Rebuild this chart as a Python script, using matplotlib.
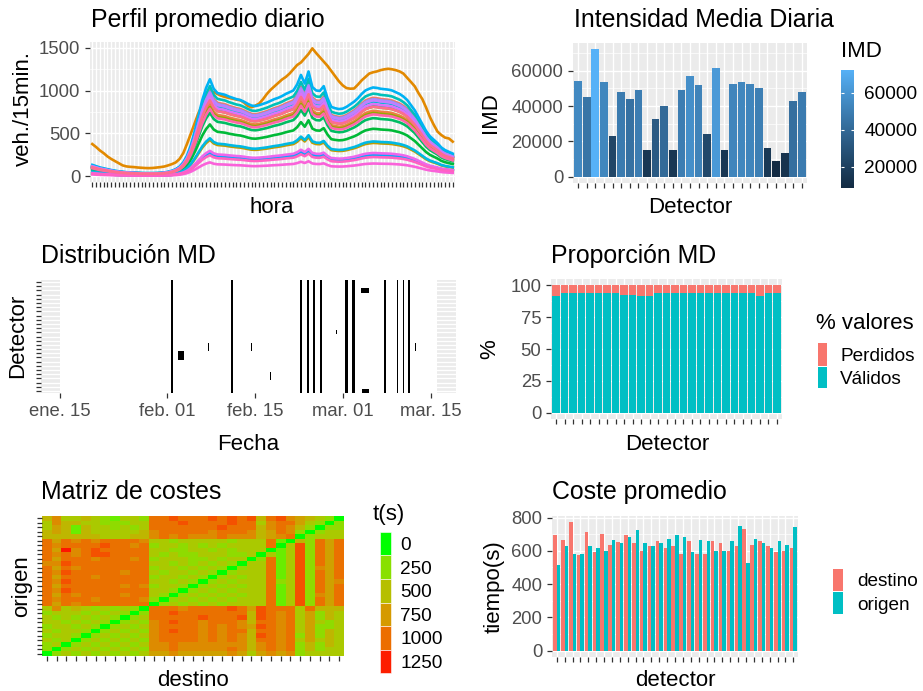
import numpy as np
import matplotlib
matplotlib.use("Agg")
import matplotlib.pyplot as plt
from matplotlib.colors import ListedColormap, Normalize
from matplotlib.patches import Rectangle
from matplotlib.ticker import FixedLocator
import matplotlib.dates as mdates
from datetime import datetime

plt.rcParams['font.family'] = ['Liberation Sans', 'DejaVu Sans']

# ---------------------------------------------------------------- data
# daily mean intensity per detector (veh/day)
imd = [54300, 45300, 72100, 53400, 23000, 48100, 43800, 49100, 14900, 32800,
       40200, 14900, 49100, 57200, 51700, 24000, 61500, 14900, 52600, 53400,
       52600, 50000, 16000, 8700, 13200, 42800, 48100]
imd_breaks = [0, 20000, 40000, 60000]
imd_bar_breaks = [20000, 40000, 60000]

# 15-minute profile of a typical detector (veh./15min.)
perfil_tipo = [130, 115, 100, 90, 80, 70, 62, 55, 50, 45, 42, 40, 38, 36, 35, 35,
               35, 36, 38, 42, 50, 62, 80, 110, 160, 240, 360, 520, 700, 880, 1020, 1120,
               1010, 960, 950, 940, 920, 905, 890, 880, 860, 835, 815, 810, 820, 835, 850, 870,
               890, 905, 925, 950, 970, 990, 1060, 1170, 1070, 1210, 1030, 990, 985, 1040, 900, 800,
               785, 775, 780, 800, 830, 860, 900, 950, 990, 1010, 1025, 1020, 1010, 1005, 1000, 990,
               970, 950, 920, 880, 820, 760, 680, 600, 520, 460, 420, 380, 330, 300, 280, 260]
# 15-minute profile of the busiest detector (number 3)
perfil_det3 = [375, 340, 300, 268, 230, 200, 175, 150, 125, 113, 108, 105, 100, 97, 94, 93,
               95, 100, 105, 112, 125, 140, 160, 200, 270, 380, 500, 620, 740, 830, 880, 970,
               985, 960, 940, 926, 915, 905, 895, 888, 860, 820, 805, 825, 849, 900, 960, 1010,
               1050, 1090, 1130, 1160, 1200, 1250, 1300, 1330, 1380, 1430, 1495, 1440, 1390, 1340, 1290, 1230,
               1170, 1110, 1062, 1030, 1023, 1025, 1070, 1120, 1160, 1200, 1215, 1225, 1240, 1250, 1256, 1250,
               1240, 1225, 1200, 1150, 1101, 1050, 970, 900, 800, 690, 600, 520, 480, 450, 440, 403]
perfil_y_breaks = [0, 500, 1000, 1500]

# share of valid records per detector (%)
validos_pct = [91.4, 93.7, 93.7, 93.7, 93.7, 93.7, 93.7, 93.7, 92.7, 92.7,
               91.4, 91.4, 93.7, 93.7, 93.7, 93.7, 93.7, 93.7, 93.7, 93.7,
               93.7, 93.7, 93.7, 93.7, 91.4, 93.7, 93.7]
pct_breaks = [0, 25, 50, 75, 100]

# missing-data episodes: (start, hours, first detector, last detector)
md_periodo = ("2021-01-15 00:00", "2021-03-16 00:00")
md_eventos = [
    ("2021-01-26 06:00", 3, 6, 6),
    ("2021-02-01 17:00", 6, 1, 27),
    ("2021-02-02 18:00", 25, 9, 10),
    ("2021-02-07 12:30", 4, 11, 12),
    ("2021-02-11 07:00", 6, 1, 27),
    ("2021-02-14 07:40", 4, 11, 12),
    ("2021-02-17 08:30", 4, 4, 5),
    ("2021-02-22 06:00", 6, 1, 27),
    ("2021-02-23 07:30", 6, 1, 27),
    ("2021-02-24 08:00", 6, 1, 27),
    ("2021-02-25 09:00", 6, 1, 27),
    ("2021-02-27 21:30", 3, 15, 15),
    ("2021-03-01 09:00", 12, 1, 27),
    ("2021-03-02 10:50", 10, 1, 27),
    ("2021-03-03 22:20", 30, 25, 25),
    ("2021-03-04 02:30", 26, 1, 1),
    ("2021-03-07 15:00", 6, 1, 27),
    ("2021-03-09 14:00", 6, 1, 27),
    ("2021-03-10 13:00", 6, 1, 27),
    ("2021-03-11 10:30", 6, 1, 27),
    ("2021-03-12 10:40", 4, 11, 12),
]
fecha_ticks = ["2021-01-15", "2021-02-01", "2021-02-15", "2021-03-01", "2021-03-15"]
fecha_labels = ["ene. 15", "feb. 01", "feb. 15", "mar. 01", "mar. 15"]

# origin-destination travel time matrix, one level = COSTE_PASO seconds
# rows from origen 31 (top) down to origen 1; destinos 1-11 | 12-21 | 22-31
COSTE_PASO = 140
coste_filas = [
    "46334321332" "7787778787" "8478654320",
    "36443322233" "7778777787" "7367753202",
    "35414332323" "7777777877" "7467642022",
    "45414333334" "6777776777" "6457620233",
    "44444433344" "6767666766" "6456702333",
    "75767677776" "3323333323" "3371042757",
    "76777787767" "2332323233" "3370382757",
    "75967877777" "3322332323" "3301382757",
    "76767887777" "3232233322" "3031382757",
    "75777677767" "2333223233" "0271382757",
    "66877777777" "3323232320" "3371382757",
    "75767777777" "2332323202" "3371382657",
    "76877777677" "3233232023" "3371382757",
    "75777677777" "2332320232" "3371382757",
    "76877777777" "3323202323" "3372382756",
    "75777777676" "2332023232" "3371382757",
    "76877777777" "3320232323" "3371382757",
    "75767777677" "3202323232" "3371382657",
    "76777677776" "2023232323" "3371382757",
    "75767777777" "0232323233" "3371382757",
    "36343232320" "7776777787" "5877737444",
    "23332323202" "7787777777" "4876735243",
    "32323232023" "7777787778" "4876735243",
    "33232320232" "6787767776" "4776735323",
    "23323202323" "6777767676" "5876735223",
    "32332023232" "6787767677" "4776735243",
    "23320232323" "6777767676" "4876725243",
    "32302323232" "6777767676" "4776735343",
    "23023232323" "6676666666" "4676724243",
    "20232323232" "6676666676" "4676724233",
    "02323232323" "5565555565" "3565623333",
]
coste_leyenda = [0, 250, 500, 750, 1000, 1250]
coste_max = 1280

# mean travel time per detector (s)
coste_destino = [693, 666, 771, 573, 714, 591, 703, 638, 656, 694, 647, 599, 628, 657, 619, 628,
                 581, 657, 581, 580, 657, 648, 599, 628, 731, 637, 657, 629, 591, 599, 619]
coste_origen = [513, 627, 579, 579, 627, 619, 599, 666, 646, 685, 723, 646, 628, 646, 674, 694,
                684, 591, 666, 657, 599, 599, 657, 751, 525, 674, 646, 619, 657, 637, 742]
coste_breaks = [0, 200, 400, 600, 800]

# ---------------------------------------------------------------- colour helpers
WN = np.array([0.95047, 1.0, 1.08883])
M_RGB2XYZ = np.array([[0.4124564, 0.3575761, 0.1804375],
                      [0.2126729, 0.7151522, 0.0721750],
                      [0.0193339, 0.1191920, 0.9503041]])
M_XYZ2RGB = np.linalg.inv(M_RGB2XYZ)


def _lin_to_srgb(lin):
    lin = np.clip(lin, 0, 1)
    return np.where(lin <= 0.0031308, 12.92 * lin, 1.055 * lin ** (1 / 2.4) - 0.055)


def hex_to_lab(h):
    rgb = np.array([int(h[i:i + 2], 16) / 255 for i in (1, 3, 5)])
    lin = np.where(rgb <= 0.04045, rgb / 12.92, ((rgb + 0.055) / 1.055) ** 2.4)
    t = (M_RGB2XYZ @ lin) / WN
    f = np.where(t > (6 / 29) ** 3, np.cbrt(t), t / (3 * (6 / 29) ** 2) + 4 / 29)
    return np.array([116 * f[1] - 16, 500 * (f[0] - f[1]), 200 * (f[1] - f[2])])


def lab_to_rgb(lab):
    L, a, b = lab
    fy = (L + 16) / 116
    fx, fz = fy + a / 500, fy - b / 200
    finv = lambda f: np.where(f > 6 / 29, f ** 3, 3 * (6 / 29) ** 2 * (f - 4 / 29))
    xyz = np.array([finv(fx), finv(fy), finv(fz)]) * WN
    return _lin_to_srgb(M_XYZ2RGB @ xyz)


def lab_cmap(lo, hi, n=256):
    a, b = hex_to_lab(lo), hex_to_lab(hi)
    return ListedColormap([lab_to_rgb(a + (b - a) * t) for t in np.linspace(0, 1, n)])


def hcl(h, c=100, l=65):
    h = np.deg2rad(h)
    u, v = c * np.cos(h), c * np.sin(h)
    un = 4 * WN[0] / (WN[0] + 15 * WN[1] + 3 * WN[2])
    vn = 9 * WN[1] / (WN[0] + 15 * WN[1] + 3 * WN[2])
    Y = ((l + 16) / 116) ** 3
    up, vp = u / (13 * l) + un, v / (13 * l) + vn
    X = Y * 9 * up / (4 * vp)
    Z = Y * (12 - 3 * up - 20 * vp) / (4 * vp)
    return _lin_to_srgb(M_XYZ2RGB @ np.array([X, Y, Z]))


def hue_pal(n):
    return [hcl(15 + 360 * k / n) for k in range(n)]


# ---------------------------------------------------------------- figure
W, H = 923, 691
fig = plt.figure(figsize=(W / 100, H / 100), dpi=100)
fig.patch.set_facecolor('white')

TITLE, AXT, TICK, LEG = 17.9, 16, 13.3, 13.7
BG, TXT, TICKC = '#EBEBEB', '#4D4D4D', '#333333'
RED, TEAL = '#F8766D', '#00BFC4'


def axes_px(l, t, r, b):
    return fig.add_axes([l / W, 1 - b / H, (r - l) / W, (b - t) / H])


def gg(ax):
    ax.set_facecolor(BG)
    for s in ax.spines.values():
        s.set_visible(False)
    ax.set_axisbelow(True)
    ax.tick_params(which='major', length=3.3, width=0.9, color=TICKC,
                   labelsize=TICK, labelcolor=TXT, pad=3.8)
    ax.tick_params(which='minor', length=0)
    ax.grid(which='major', color='white', lw=1.0)
    ax.grid(which='minor', color='white', lw=0.5)


# --- Perfil promedio diario
ax1 = axes_px(90, 42, 455, 182)
gg(ax1)
n_det = len(imd)
pal = hue_pal(n_det)
base = np.array(perfil_tipo, float)
for k in range(n_det):
    serie = np.array(perfil_det3, float) if k == 2 else base * imd[k] / base.sum()
    ax1.plot(np.arange(len(serie)), serie, color=pal[k], lw=1.9, solid_joinstyle='round')
ax1.set_xlim(-0.6, 95.6)
ax1.set_xticks(np.arange(96))
ax1.set_xticklabels([])
ax1.set_yticks(perfil_y_breaks)
ax1.yaxis.set_minor_locator(FixedLocator([250, 750, 1250]))
ax1.set_ymargin(0.05)
ax1.autoscale(axis='y')

# --- Intensidad Media Diaria
ax2 = axes_px(573, 43, 807, 183)
gg(ax2)
imd_cmap = lab_cmap('#132B43', '#56B1F7')
imd_norm = Normalize(min(imd), max(imd))
xdet = np.arange(1, n_det + 1)
ax2.bar(xdet, imd, width=0.9, color=[imd_cmap(imd_norm(v)) for v in imd])
ax2.set_xlim(0.4, n_det + 0.6)
ax2.set_ylim(-0.05 * max(imd), 1.05 * max(imd))
ax2.set_xticks(xdet)
ax2.set_xticklabels([])
ax2.set_yticks(imd_breaks)
ax2.yaxis.set_minor_locator(FixedLocator([10000, 30000, 50000, 70000]))

cax = axes_px(841, 70, 854, 188)
grad = np.linspace(min(imd), max(imd), 256).reshape(-1, 1)
cax.imshow(grad, cmap=imd_cmap, norm=imd_norm, aspect='auto', origin='lower',
           extent=(0, 1, min(imd), max(imd)))
cax.set_xlim(0, 1)
cax.set_ylim(min(imd), max(imd))
for s in cax.spines.values():
    s.set_visible(False)
cax.set_xticks([])
cax.yaxis.tick_right()
cax.set_yticks(imd_bar_breaks)
cax.tick_params(axis='y', length=0, pad=7.5, labelsize=LEG, labelcolor='black')
cax.hlines(imd_bar_breaks, 0, 0.2, color='white', lw=0.8)
cax.hlines(imd_bar_breaks, 0.8, 1, color='white', lw=0.8)

# --- Distribucion MD
ax3 = axes_px(41, 280, 456, 393)
gg(ax3)
t0 = mdates.date2num(datetime.strptime(md_periodo[0], "%Y-%m-%d %H:%M"))
t1 = mdates.date2num(datetime.strptime(md_periodo[1], "%Y-%m-%d %H:%M"))
ax3.add_patch(Rectangle((t0, 0.5), t1 - t0, n_det, facecolor='white', edgecolor='none', zorder=1))
for ini, horas, d0, d1 in md_eventos:
    x0 = mdates.date2num(datetime.strptime(ini, "%Y-%m-%d %H:%M"))
    ax3.add_patch(Rectangle((x0, d0 - 0.5), horas / 24, d1 - d0 + 1,
                            facecolor='black', edgecolor='none', zorder=2))
span = t1 - t0
ax3.set_xlim(t0 - 0.05 * span, t1 + 0.05 * span)
ax3.set_ylim(0.5, n_det + 0.5)
ax3.set_yticks(xdet)
ax3.set_yticklabels([])
ax3.set_xticks([mdates.date2num(datetime.strptime(d, "%Y-%m-%d")) for d in fecha_ticks])
ax3.set_xticklabels(fecha_labels)
ax3.grid(axis='x', which='both', visible=False)

# --- Proporcion MD
ax4 = axes_px(551, 279, 782, 419)
gg(ax4)
val = np.array(validos_pct)
ax4.bar(xdet, val, width=0.9, color=TEAL)
ax4.bar(xdet, 100 - val, bottom=val, width=0.9, color=RED)
ax4.set_xlim(0.4, n_det + 0.6)
ax4.set_ylim(-5, 105)
ax4.set_xticks(xdet)
ax4.set_xticklabels([])
ax4.set_yticks(pct_breaks)
ax4.yaxis.set_minor_locator(FixedLocator([12.5, 37.5, 62.5, 87.5]))

# --- Matriz de costes
ax5 = axes_px(42, 516, 344, 656)
gg(ax5)
coste = np.array([[int(c) * COSTE_PASO for c in fila] for fila in coste_filas])[::-1]
n_od = coste.shape[0]
coste_cmap = lab_cmap('#00FF00', '#FF0000')
coste_norm = Normalize(0, coste_max)
ax5.imshow(coste, cmap=coste_cmap, norm=coste_norm, origin='lower', aspect='auto',
           interpolation='nearest', extent=(0.5, n_od + 0.5, 0.5, n_od + 0.5))
ax5.set_xlim(0.5, n_od + 0.5)
ax5.set_ylim(0.5, n_od + 0.5)
ax5.set_xticks(np.arange(1, n_od + 1))
ax5.set_yticks(np.arange(1, n_od + 1))
ax5.set_xticklabels([])
ax5.set_yticklabels([])
ax5.grid(False)

# --- Coste promedio
ax6 = axes_px(552, 516, 798, 657)
gg(ax6)
xod = np.arange(1, len(coste_destino) + 1)
ax6.bar(xod - 0.225, coste_destino, width=0.45, color=RED)
ax6.bar(xod + 0.225, coste_origen, width=0.45, color=TEAL)
top = max(max(coste_destino), max(coste_origen))
ax6.set_xlim(0.4, len(xod) + 0.6)
ax6.set_ylim(-0.05 * top, 1.05 * top)
ax6.set_xticks(xod)
ax6.set_xticklabels([])
ax6.set_yticks(coste_breaks)
ax6.yaxis.set_minor_locator(FixedLocator([100, 300, 500, 700]))

# ---------------------------------------------------------------- titles, labels, legends
ov = fig.add_axes([0, 0, 1, 1], zorder=10)
ov.set_xlim(0, W)
ov.set_ylim(H, 0)
ov.axis('off')
ov.patch.set_alpha(0)

for x, y, s in [(91, 26.5, "Perfil promedio diario"), (574, 26.5, "Intensidad Media Diaria"),
                (41, 263, "Distribución MD"), (551, 263, "Proporción MD"),
                (41, 499, "Matriz de costes"), (552, 499, "Coste promedio")]:
    ov.text(x, y, s, fontsize=TITLE, ha='left', va='baseline', color='black')

for x, y, s in [(272, 213, "hora"), (690, 213, "Detector"), (248, 450, "Fecha"),
                (667, 450, "Detector"), (193, 686, "destino"), (675, 686, "detector")]:
    ov.text(x, y, s, fontsize=AXT, ha='center', va='baseline', color='black')

for x, y, s in [(23, 108, "veh./15min."), (490, 113, "IMD"), (18, 336, "Detector"),
                (490, 349, "%"), (22, 586, "origen"), (494, 587, "tiempo(s)")]:
    ov.text(x, y, s, fontsize=AXT, ha='center', va='center', rotation=90, color='black')

# IMD colourbar title
ov.text(841, 57, "IMD", fontsize=AXT, ha='left', va='baseline')

# Proporcion legend
ov.text(816, 329, "% valores", fontsize=AXT, ha='left', va='baseline')
for (y0, y1), col, lab in [((343, 365.5), RED, "Perdidos"), ((366.5, 387.5), TEAL, "Válidos")]:
    ov.add_patch(Rectangle((818, y0), 9, y1 - y0, facecolor=col, edgecolor='none'))
    ov.text(840, (y0 + y1) / 2, lab, fontsize=LEG, ha='left', va='center_baseline')

# Matriz legend
ov.text(373, 520, "t(s)", fontsize=AXT, ha='left', va='baseline')
key_h = 23.6
for i, v in enumerate(coste_leyenda):
    y0 = 531.7 + i * key_h
    ov.add_patch(Rectangle((380, y0), 10.7, key_h, facecolor=coste_cmap(coste_norm(v)),
                           edgecolor='white', lw=0.4))
    ov.text(400, y0 + key_h / 2, str(v), fontsize=LEG, ha='left', va='center_baseline')

# Coste legend
for (y0, y1), col, lab in [((569, 591), RED, "destino"), ((592, 614), TEAL, "origen")]:
    ov.add_patch(Rectangle((833, y0), 10, y1 - y0, facecolor=col, edgecolor='none'))
    ov.text(857, (y0 + y1) / 2, lab, fontsize=LEG, ha='left', va='center_baseline')

fig.savefig("out.png", dpi=100, facecolor='white')
